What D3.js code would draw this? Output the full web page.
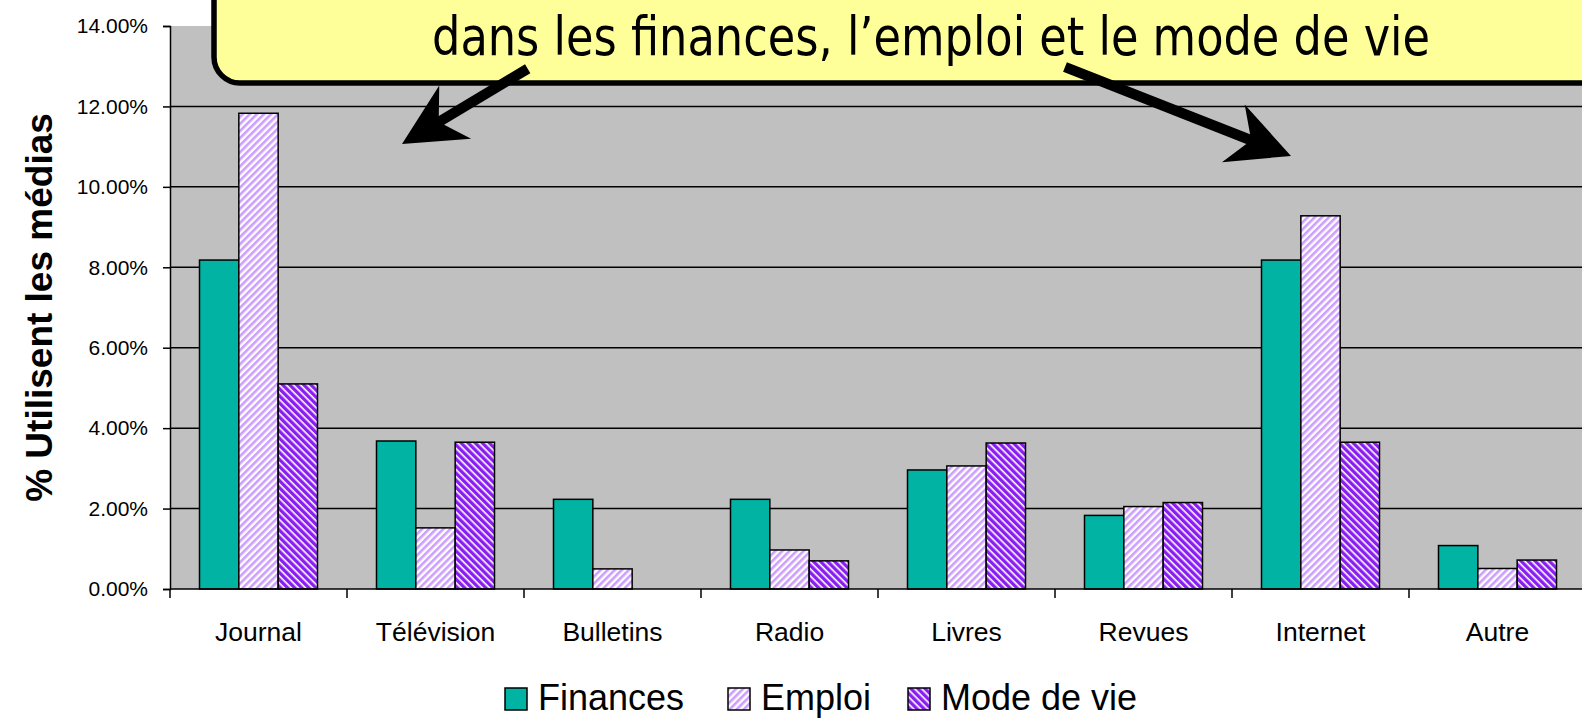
<!DOCTYPE html>
<html>
<head>
<meta charset="utf-8">
<script src="https://cdn.jsdelivr.net/npm/d3@7"></script>
<style>
  html, body { margin: 0; padding: 0; background: #fff; }
  svg { display: block; }
</style>
</head>
<body>
<div id="chart"></div>
<script>
// data
const categories = ['Journal', 'Télévision', 'Bulletins', 'Radio', 'Livres', 'Revues', 'Internet', 'Autre'];
const seriesNames = ['Finances', 'Emploi', 'Mode de vie'];
const finances = [0.0818, 0.0368, 0.0223, 0.0223, 0.0296, 0.0183, 0.0818, 0.0108];
const emploi   = [0.1183, 0.0152, 0.0050, 0.0097, 0.0306, 0.0205, 0.0928, 0.0051];
const modeVie  = [0.0510, 0.0365, 0.0000, 0.0070, 0.0363, 0.0215, 0.0365, 0.0072];
const yTicks = [0, 0.02, 0.04, 0.06, 0.08, 0.10, 0.12, 0.14];
const calloutText = 'dans les finances, l\u2019emploi et le mode de vie';

const W = 1582, H = 718;
const font = 'Liberation Sans, Arial, sans-serif';
const plot = { left: 170, top: 26, bottom: 589, step: 177 };

const svg = d3.select('#chart').append('svg')
  .attr('width', W).attr('height', H);

// patterns
const defs = svg.append('defs');
const mkPattern = (id, angle, bg, fg, fgw) => {
  const p = defs.append('pattern').attr('id', id)
    .attr('patternUnits', 'userSpaceOnUse')
    .attr('width', 5).attr('height', 5)
    .attr('patternTransform', `rotate(${angle})`);
  p.append('rect').attr('width', 5).attr('height', 5).attr('fill', bg);
  p.append('rect').attr('width', fgw).attr('height', 5).attr('fill', fg);
};
mkPattern('pEmploi', 45, '#ffffff', '#cc9eff', 2.6);
mkPattern('pMode', -45, '#ffffff', '#8a1ef0', 3.4);
const fills = { 'Finances': '#00b3a3', 'Emploi': 'url(#pEmploi)', 'Mode de vie': 'url(#pMode)' };

const rows = categories.map((c, i) => ({
  cat: c,
  vals: [
    { s: 'Finances', v: finances[i] },
    { s: 'Emploi', v: emploi[i] },
    { s: 'Mode de vie', v: modeVie[i] }
  ]
}));

const x0 = d3.scaleBand().domain(categories)
  .range([plot.left, plot.left + plot.step * categories.length])
  .paddingInner(1 / 3).paddingOuter(1 / 6);
const x1 = d3.scaleBand().domain(seriesNames).range([0, x0.bandwidth()]);
const y = d3.scaleLinear().domain([0, 0.14]).range([plot.bottom, plot.top]);

// plot background
svg.append('rect')
  .attr('x', plot.left).attr('y', plot.top)
  .attr('width', W - plot.left + 10).attr('height', plot.bottom - plot.top)
  .attr('fill', '#c0c0c0');

// gridlines
svg.append('g').selectAll('line').data(yTicks.filter(t => t > 0 && t < 0.14)).join('line')
  .attr('x1', plot.left).attr('x2', W + 10)
  .attr('y1', d => y(d)).attr('y2', d => y(d))
  .attr('stroke', '#000').attr('stroke-width', 1.5);

// bars
const groups = svg.append('g').selectAll('g').data(rows).join('g')
  .attr('transform', d => `translate(${x0(d.cat)},0)`);
groups.selectAll('rect').data(d => d.vals.filter(v => v.v > 0)).join('rect')
  .attr('x', d => x1(d.s)).attr('width', x1.bandwidth())
  .attr('y', d => y(d.v)).attr('height', d => y(0) - y(d.v))
  .attr('fill', d => fills[d.s])
  .attr('stroke', '#000').attr('stroke-width', 1.5);

// y axis
const yAxis = svg.append('g').attr('transform', `translate(${plot.left},0)`)
  .call(d3.axisLeft(y).tickValues(yTicks).tickFormat(d3.format('.2%'))
    .tickSize(7).tickPadding(15));
yAxis.select('.domain').attr('stroke', '#000').attr('stroke-width', 1.5);
yAxis.selectAll('.tick line').attr('stroke', '#000').attr('stroke-width', 1.5);
yAxis.selectAll('.tick text').attr('font-family', font).attr('font-size', 21).attr('fill', '#000');

// x axis line and boundary ticks
svg.append('line')
  .attr('x1', plot.left).attr('x2', W + 10)
  .attr('y1', y(0)).attr('y2', y(0))
  .attr('stroke', '#000').attr('stroke-width', 1.5);
svg.append('g').selectAll('line').data(d3.range(categories.length + 1)).join('line')
  .attr('x1', i => plot.left + i * x0.step()).attr('x2', i => plot.left + i * x0.step())
  .attr('y1', y(0)).attr('y2', y(0) + 9)
  .attr('stroke', '#000').attr('stroke-width', 1.5);
svg.append('g').selectAll('text').data(categories).join('text')
  .attr('x', d => x0(d) + x0.bandwidth() / 2).attr('y', 641)
  .attr('text-anchor', 'middle')
  .attr('font-family', font).attr('font-size', 26.5)
  .text(d => d);

// y title
svg.append('text')
  .attr('transform', `translate(52,${(plot.top + plot.bottom) / 2}) rotate(-90)`)
  .attr('text-anchor', 'middle')
  .attr('font-family', font).attr('font-weight', 'bold').attr('font-size', 37)
  .text('% Utilisent les médias');

// legend
const legendX = [505, 728, 908];
const lg = svg.append('g').selectAll('g').data(seriesNames).join('g')
  .attr('transform', (d, i) => `translate(${legendX[i]},688)`);
lg.append('rect').attr('width', 22).attr('height', 22)
  .attr('fill', d => fills[d]).attr('stroke', '#000').attr('stroke-width', 1.5);
lg.append('text').attr('x', 33).attr('y', 22)
  .attr('font-family', font).attr('font-size', 36)
  .text(d => d);

// callout box
svg.append('rect')
  .attr('x', 214).attr('y', -60).attr('width', W + 60).attr('height', 143)
  .attr('rx', 26).attr('ry', 26)
  .attr('fill', '#ffff99').attr('stroke', '#000').attr('stroke-width', 5.5);
svg.append('text')
  .attr('x', 432).attr('y', 55)
  .attr('font-family', 'DejaVu Sans Condensed, DejaVu Sans, sans-serif')
  .attr('font-size', 54)
  .attr('textLength', 998).attr('lengthAdjust', 'spacingAndGlyphs')
  .text(calloutText);

// arrows (annotation)
function arrowPath(s, t) {
  const dx = t[0] - s[0], dy = t[1] - s[1];
  const len = Math.hypot(dx, dy);
  const u = [dx / len, dy / len], n = [-u[1], u[0]];
  const headLen = 62, headHalf = 31, notch = 46, half = 5.2;
  const pt = (back, side) => [t[0] - u[0] * back + n[0] * side, t[1] - u[1] * back + n[1] * side];
  const sp = (side) => [s[0] + n[0] * side, s[1] + n[1] * side];
  const pts = [sp(half), pt(notch, half), pt(headLen, headHalf), t,
    pt(headLen, -headHalf), pt(notch, -half), sp(-half)];
  return 'M' + pts.map(p => p.join(',')).join('L') + 'Z';
}
const arrows = [
  { s: [527.7, 68.7], t: [402, 144] },
  { s: [1065, 67], t: [1291, 156] }
];
svg.append('g').selectAll('path').data(arrows).join('path')
  .attr('d', d => arrowPath(d.s, d.t))
  .attr('fill', '#000');
</script>
</body>
</html>
